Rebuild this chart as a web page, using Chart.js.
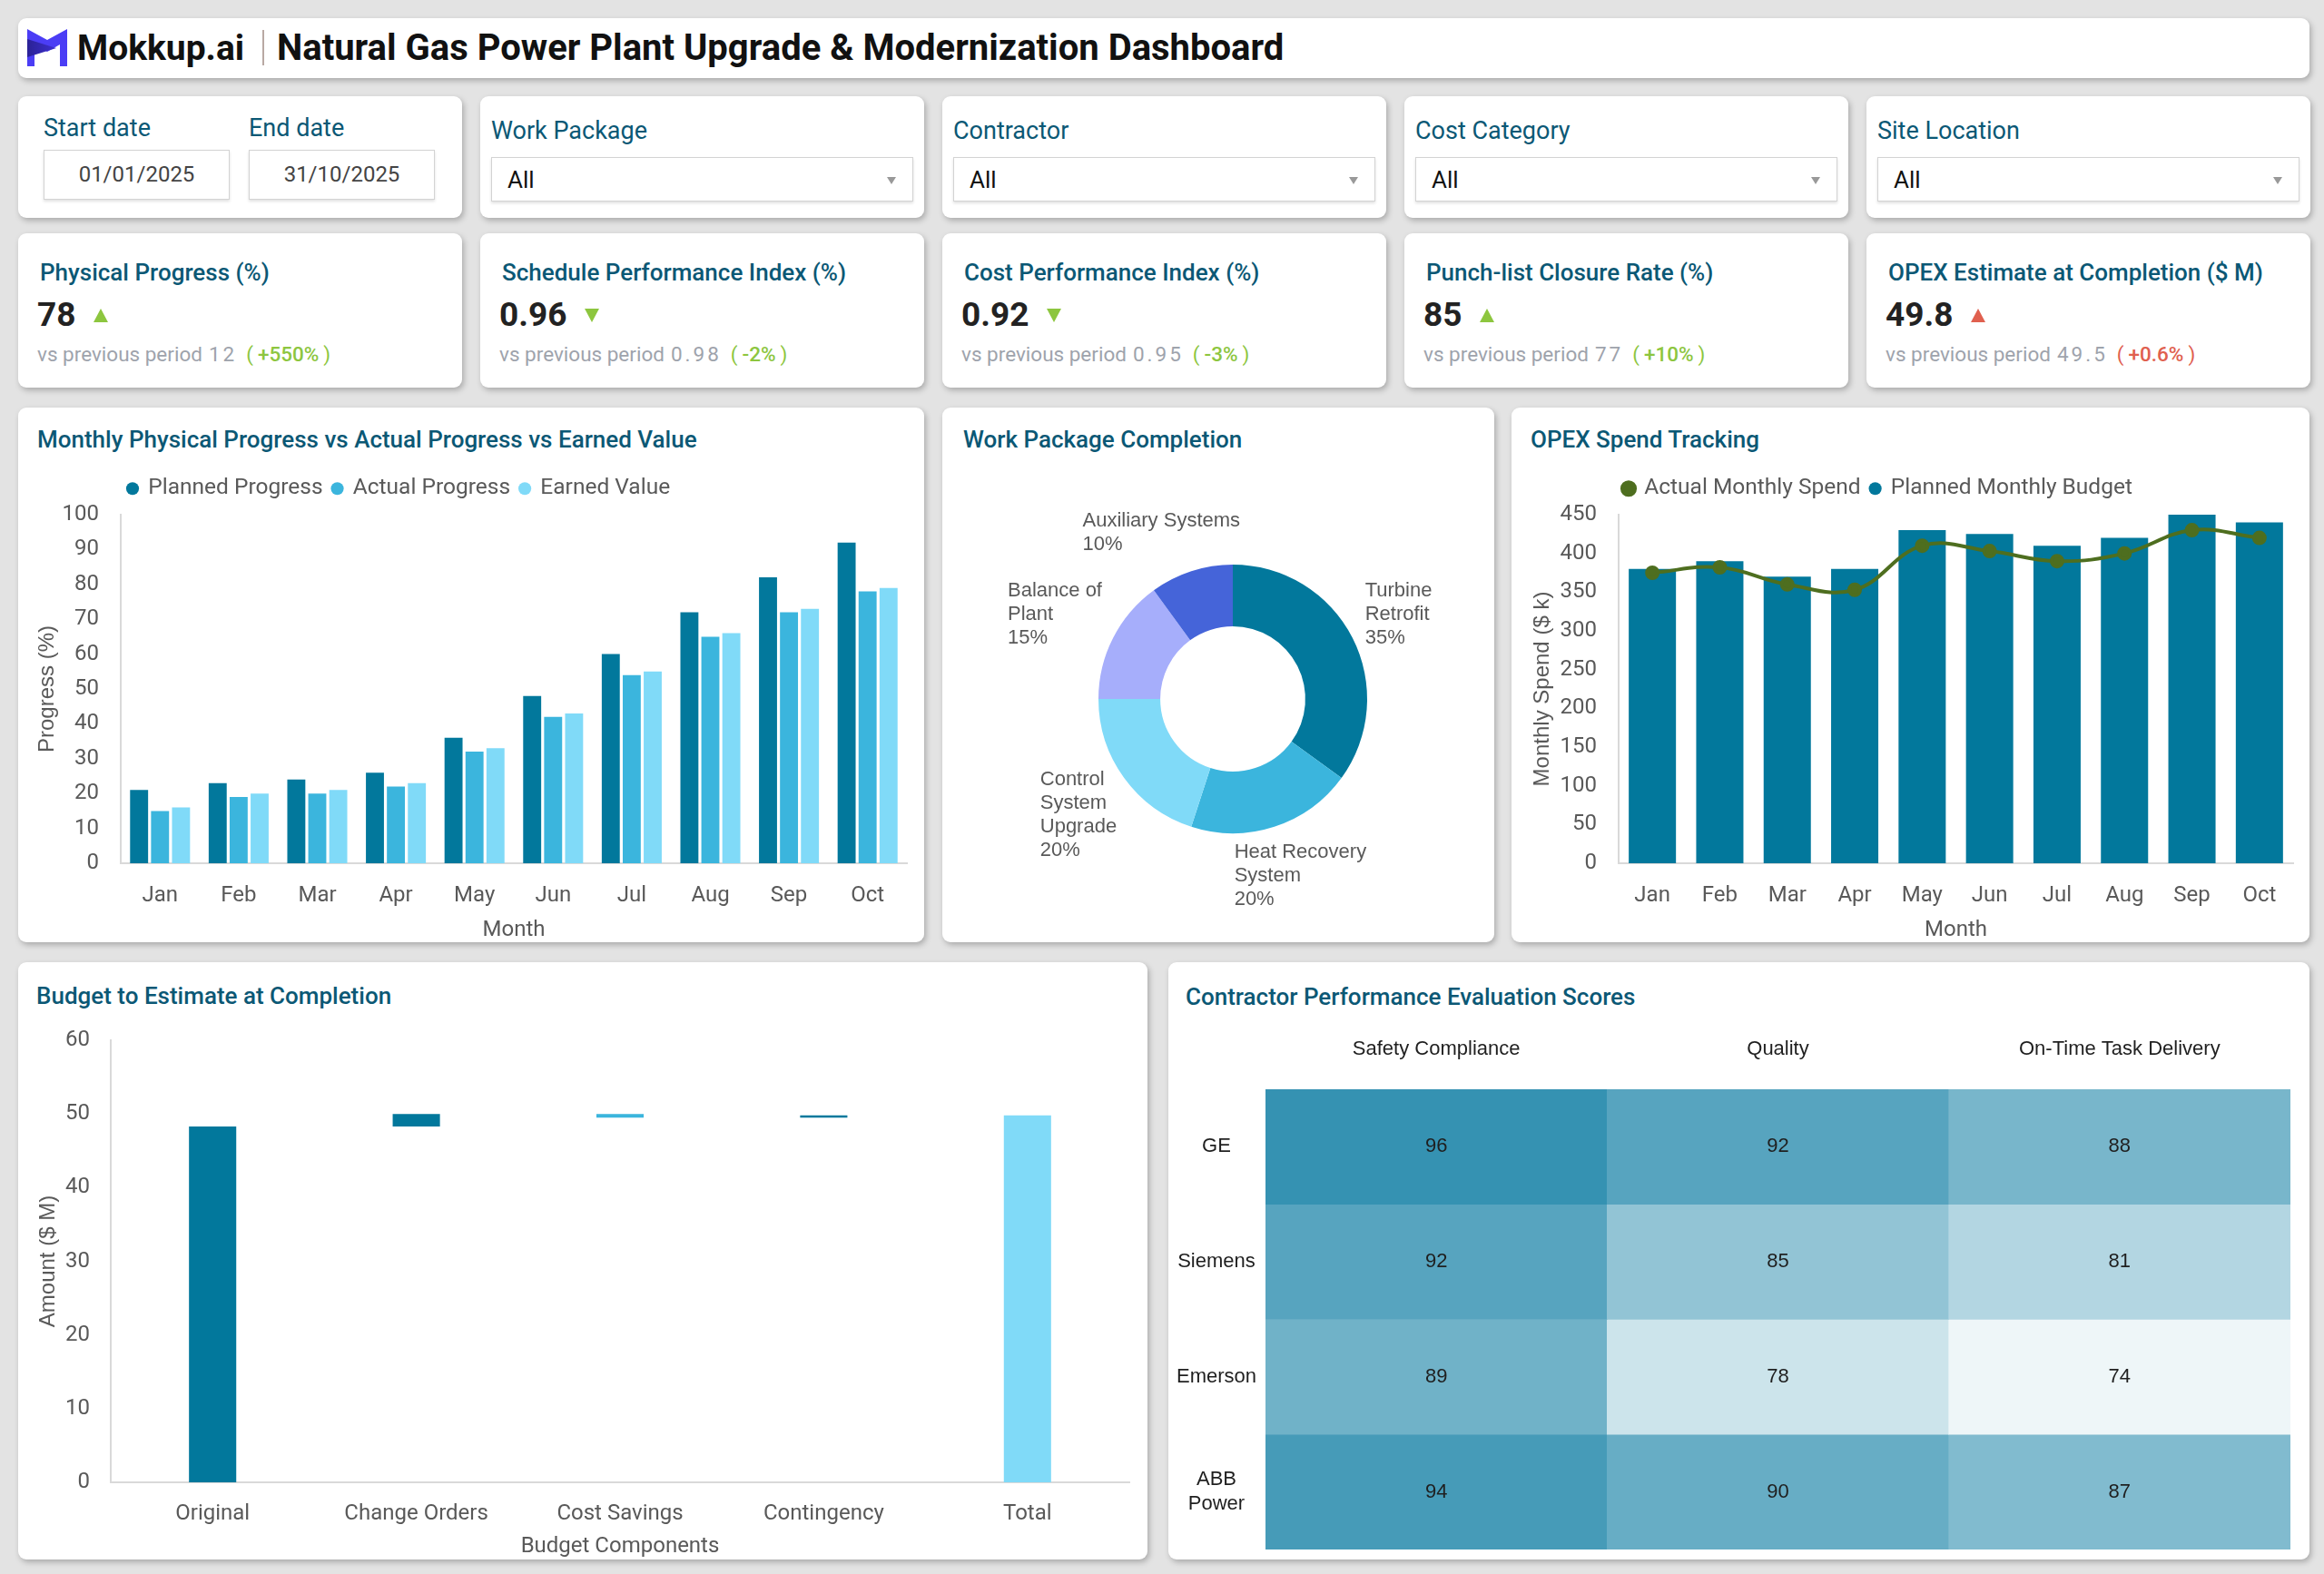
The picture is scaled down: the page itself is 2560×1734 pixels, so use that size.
<!DOCTYPE html>
<html>
<head>
<meta charset="utf-8">
<title>Natural Gas Power Plant Upgrade & Modernization Dashboard</title>
<script src="https://cdn.jsdelivr.net/npm/chart.js@4.4.1/dist/chart.umd.min.js"></script>
<style>
  html, body { margin: 0; padding: 0; }
  body { background: #e3e3e3; font-family: Roboto, "Noto Sans", sans-serif; }
  #page { position: relative; width: 2560px; height: 1734px; overflow: hidden; }
  .card { position: absolute; background: #fff; border-radius: 9px; box-shadow: 2px 3px 6px rgba(0,0,0,0.25); }
  .abs { position: absolute; white-space: nowrap; }
  canvas { position: absolute; }
  .brand { left: 65px; top: 9px; font-size: 39px; font-weight: 700; line-height: 48px; color: #111; }
  .sep { left: 269px; top: 13px; width: 2px; height: 39px; background: #b9a9a3; }
  .htitle { left: 285px; top: 8px; font-size: 40px; font-weight: 700; line-height: 50px; color: #111; }
  .flabel { font-size: 27px; line-height: 32px; color: #0b5875; }
  .datebox { border: 1px solid #d3d3d3; box-shadow: 0 2px 3px rgba(0,0,0,0.12); font-size: 24px; color: #444;
             text-align: center; line-height: 53px; height: 53px; width: 203px; }
  .select { border: 1px solid #d3d3d3; box-shadow: 0 2px 3px rgba(0,0,0,0.12); height: 47px; width: 463px; }
  .select span { position: absolute; left: 17px; top: 0; line-height: 48px; font-size: 26px; color: #111; }
  .select i { position: absolute; right: 18px; top: 21px; width: 0; height: 0;
              border-left: 5px solid transparent; border-right: 5px solid transparent; border-top: 8px solid #999; }
  .ktitle { left: 24px; top: 27px; font-size: 26px; font-weight: 500; line-height: 32px; color: #0b5875; }
  .kvalue { left: 21px; top: 68px; font-size: 37px; font-weight: 700; line-height: 44px; color: #222; }
  .kvalue b { display: inline-block; width: 0; height: 0; margin-left: 20px; vertical-align: 4px; }
  .up { border-left: 8px solid transparent; border-right: 8px solid transparent; border-bottom: 15px solid; }
  .down { border-left: 8px solid transparent; border-right: 8px solid transparent; border-top: 15px solid; }
  .kprev { left: 21px; top: 119px; font-size: 22.5px; line-height: 28px; color: #9ea3ac; }
  .kprev .num { letter-spacing: 3px; margin-left: 7px; }
  .kprev .chg { margin-left: 10px; }
  .kprev .chg em { font-style: normal; font-weight: 500; margin: 0 5px; }
  .ctitle { font-size: 26px; font-weight: 500; line-height: 32px; color: #0b5875; }
</style>
</head>
<body>
<div id="page">
  <div class="card" style="left:20px;top:20px;width:2524px;height:66px">
    <svg class="abs" style="left:10px;top:12px" width="44" height="41" viewBox="0 0 44 41">
      <defs>
        <linearGradient id="lg" x1="0" x2="1" y1="0" y2="0">
          <stop offset="0" stop-color="#2b2296"/><stop offset="1" stop-color="#3d2fd0"/>
        </linearGradient>
      </defs>
      <path d="M0,0 L22,12 L44,0 L44,41 L36,41 L36,17 L22,25 L8,17 L8,41 L0,41 Z" fill="#4b3df5"/>
      <path d="M0,11 L32,21 L0,31 Z" fill="url(#lg)"/>
    </svg>
    <div class="abs brand">Mokkup.ai</div>
    <div class="abs sep"></div>
    <div class="abs htitle">Natural Gas Power Plant Upgrade &amp; Modernization Dashboard</div>
  </div>

  <div class="card" style="left:20px;top:106px;width:489px;height:134px">
    <div class="abs flabel" style="left:28px;top:19px">Start date</div>
    <div class="abs flabel" style="left:254px;top:19px">End date</div>
    <div class="abs datebox" style="left:28px;top:59px">01/01/2025</div>
    <div class="abs datebox" style="left:254px;top:59px">31/10/2025</div>
  </div>
  <div id="filters"></div>
  <div id="kpis"></div>

  <div class="card" style="left:20px;top:449px;width:998px;height:589px">
    <div class="abs ctitle" style="left:21px;top:19px">Monthly Physical Progress vs Actual Progress vs Earned Value</div>
  </div>
  <div class="card" style="left:1038px;top:449px;width:608px;height:589px">
    <div class="abs ctitle" style="left:23px;top:19px">Work Package Completion</div>
  </div>
  <div class="card" style="left:1665px;top:449px;width:879px;height:589px">
    <div class="abs ctitle" style="left:21px;top:19px">OPEX Spend Tracking</div>
  </div>
  <div class="card" style="left:20px;top:1060px;width:1244px;height:658px">
    <div class="abs ctitle" style="left:20px;top:21px">Budget to Estimate at Completion</div>
  </div>
  <div class="card" style="left:1287px;top:1060px;width:1257px;height:658px">
    <div class="abs ctitle" style="left:19px;top:22px">Contractor Performance Evaluation Scores</div>
  </div>

  <canvas id="progressChart" width="985" height="524" style="left:30px;top:515px"></canvas>
  <canvas id="packageChart" width="560" height="500" style="left:1078px;top:520px"></canvas>
  <canvas id="opexChart" width="868" height="524" style="left:1672px;top:515px"></canvas>
  <canvas id="budgetChart" width="1232" height="598" style="left:30px;top:1120px"></canvas>
  <canvas id="scoreChart" width="1250" height="595" style="left:1290px;top:1120px"></canvas>
</div>

<script>
// ---- data ----
const filterLabels = ['Work Package', 'Contractor', 'Cost Category', 'Site Location'];

const kpiTitles = ['Physical Progress (%)', 'Schedule Performance Index (%)', 'Cost Performance Index (%)',
  'Punch-list Closure Rate (%)', 'OPEX Estimate at Completion ($ M)'];
const kpiValues = ['78', '0.96', '0.92', '85', '49.8'];
const kpiPrevious = ['12', '0.98', '0.95', '77', '49.5'];
const kpiChange = ['+550%', '-2%', '-3%', '+10%', '+0.6%'];
const kpiDirection = ['up', 'down', 'down', 'up', 'up'];
const kpiFavourable = [true, true, true, true, false];

const months = ['Jan', 'Feb', 'Mar', 'Apr', 'May', 'Jun', 'Jul', 'Aug', 'Sep', 'Oct'];
const plannedProgress = [21, 23, 24, 26, 36, 48, 60, 72, 82, 92];
const actualProgress = [15, 19, 20, 22, 32, 42, 54, 65, 72, 78];
const earnedValue = [16, 20, 21, 23, 33, 43, 55, 66, 73, 79];

const workPackages = ['Turbine Retrofit', 'Heat Recovery System', 'Control System Upgrade', 'Balance of Plant', 'Auxiliary Systems'];
const workPackageShare = [35, 20, 20, 15, 10];
const workPackageLines = [['Turbine', 'Retrofit'], ['Heat Recovery', 'System'], ['Control', 'System', 'Upgrade'],
  ['Balance of', 'Plant'], ['Auxiliary Systems']];

const plannedBudget = [380, 390, 370, 380, 430, 425, 410, 420, 450, 440];
const actualSpend = [375, 382, 360, 353, 410, 403, 390, 400, 430, 420];

const budgetSteps = ['Original', 'Change Orders', 'Cost Savings', 'Contingency', 'Total'];
const budgetOriginal = 48.3;
const budgetAdjustments = [1.7, -0.5, 0.3];
const budgetTotal = 49.8;

const contractors = ['GE', 'Siemens', 'Emerson', 'ABB Power'];
const criteria = ['Safety Compliance', 'Quality', 'On-Time Task Delivery'];
const contractorScores = [[96, 92, 88], [92, 85, 81], [89, 78, 74], [94, 90, 87]];

// ---- colours ----
const C_DARK = '#02789C';
const C_MID = '#3BB5DD';
const C_LIGHT = '#80DAF8';
const C_GREEN = '#4E6E1F';
const TEXT = '#595959';
const AXIS = '#d9d9d9';

// ---- filter + kpi cards ----
const filtersEl = document.getElementById('filters');
filterLabels.forEach((label, i) => {
  const card = document.createElement('div');
  card.className = 'card';
  card.style.cssText = `left:${529 + i * 509}px;top:106px;width:489px;height:134px`;
  card.innerHTML = `<div class="abs flabel" style="left:12px;top:22px">${label}</div>
    <div class="abs select" style="left:12px;top:67px"><span>All</span><i></i></div>`;
  filtersEl.appendChild(card);
});

const kpisEl = document.getElementById('kpis');
kpiTitles.forEach((title, i) => {
  const good = kpiFavourable[i] ? '#8dc63f' : '#e0604f';
  const card = document.createElement('div');
  card.className = 'card';
  card.style.cssText = `left:${20 + i * 509}px;top:257px;width:489px;height:170px`;
  card.innerHTML = `<div class="abs ktitle">${title}</div>
    <div class="abs kvalue">${kpiValues[i]}<b class="${kpiDirection[i]}" style="color:${good}"></b></div>
    <div class="abs kprev">vs previous period<span class="num">${kpiPrevious[i]}</span><span class="chg" style="color:${good}">(<em>${kpiChange[i]}</em>)</span></div>`;
  kpisEl.appendChild(card);
});

// ---- chart defaults ----
Chart.defaults.font.family = 'Roboto';
Chart.defaults.font.size = 24;
Chart.defaults.color = TEXT;
Chart.defaults.animation = false;
Chart.defaults.plugins.tooltip.enabled = false;

const axisTitleFont = { family: '"Liberation Sans", Arial', size: 24 };
// fixed axis sizes so the plot areas land where the dashboard has them
const fixWidth = (w) => (scale) => { scale.width = w; scale.paddingTop = 0; scale.paddingBottom = 0; };
const fixHeight = (h) => (scale) => { scale.height = h; scale.paddingLeft = 0; scale.paddingRight = 0; };

// legend sits at a fixed height and starts at the plot's left edge
const legendPlacement = (height, inset) => ({
  id: 'legendPlacement',
  beforeLayout(chart) {
    const lg = chart.legend;
    if (lg && !lg._fixed) {
      const fit = lg.fit;
      lg.fit = function () { fit.call(this); this.height = height; };
      lg._fixed = true;
    }
  },
  afterLayout(chart) {
    const lg = chart.legend;
    const dx = chart.chartArea.left + inset - lg.options.labels.padding - lg.left;
    lg.left += dx;
    lg.right += dx;
  }
});

const legendOpts = {
  align: 'start',
  labels: { usePointStyle: true, pointStyle: 'circle', boxWidth: 10, boxHeight: 10, padding: 11,
            color: TEXT, font: { size: 24.5 } }
};
const plainGrid = { display: false, drawTicks: false };
const axisBorder = { display: true, color: AXIS, width: 2 };

// ---- monthly progress ----
new Chart(document.getElementById('progressChart'), {
  type: 'bar',
  data: {
    labels: months,
    datasets: [
      { label: 'Planned Progress', data: plannedProgress, backgroundColor: C_DARK },
      { label: 'Actual Progress', data: actualProgress, backgroundColor: C_MID },
      { label: 'Earned Value', data: earnedValue, backgroundColor: C_LIGHT }
    ]
  },
  options: {
    responsive: false,
    layout: { padding: { right: 16 } },
    datasets: { bar: { categoryPercentage: 0.8, barPercentage: 0.86 } },
    plugins: { legend: legendOpts },
    scales: {
      x: {
        grid: plainGrid, border: axisBorder, ticks: { padding: 22 },
        title: { display: true, text: 'Month', color: TEXT, font: { size: 24 }, padding: { top: 0, bottom: 0 } },
        afterFit: fixHeight(88)
      },
      y: {
        min: 0, max: 100, grid: plainGrid, border: axisBorder, ticks: { stepSize: 10, padding: 24 },
        title: { display: true, text: 'Progress (%)', color: TEXT, font: axisTitleFont, padding: { top: 8, bottom: 0 } },
        afterFit: fixWidth(103)
      }
    }
  },
  plugins: [legendPlacement(52, 8)]
});

// ---- work package doughnut ----
const outsideLabels = {
  id: 'outsideLabels',
  afterDatasetsDraw(chart) {
    const ctx = chart.ctx;
    const lineH = 26;
    ctx.save();
    ctx.font = '22px "Liberation Sans", Arial';
    ctx.fillStyle = TEXT;
    ctx.textAlign = 'left';
    ctx.textBaseline = 'middle';
    chart.getDatasetMeta(0).data.forEach((arc, i) => {
      const lines = workPackageLines[i].concat([workPackageShare[i] + '%']);
      const mid = (arc.startAngle + arc.endAngle) / 2;
      const ux = Math.cos(mid), uy = Math.sin(mid);
      const w = Math.max(...lines.map((l) => ctx.measureText(l).width));
      const h = lines.length * lineH;
      const cx = arc.x + ux * (arc.outerRadius + 20) + ux * w / 2;
      const cy = arc.y + uy * (arc.outerRadius + 18) + uy * h / 2;
      lines.forEach((l, k) => ctx.fillText(l, cx - w / 2, cy - h / 2 + lineH * (k + 0.5)));
    });
    ctx.restore();
  }
};

new Chart(document.getElementById('packageChart'), {
  type: 'doughnut',
  data: {
    labels: workPackages,
    datasets: [{
      data: workPackageShare,
      backgroundColor: [C_DARK, C_MID, C_LIGHT, '#A6AEFB', '#4564D9'],
      borderWidth: 0
    }]
  },
  options: {
    responsive: false,
    cutout: '54%',
    layout: { padding: { left: 132, right: 132, top: 102, bottom: 102 } },
    plugins: { legend: { display: false } }
  },
  plugins: [outsideLabels]
});

// ---- OPEX tracking ----
new Chart(document.getElementById('opexChart'), {
  type: 'bar',
  data: {
    labels: months,
    datasets: [
      { type: 'line', label: 'Actual Monthly Spend', data: actualSpend, order: 0,
        borderColor: C_GREEN, backgroundColor: C_GREEN, pointBackgroundColor: C_GREEN, pointBorderColor: C_GREEN,
        borderWidth: 4, pointRadius: 6, tension: 0.4 },
      { type: 'bar', label: 'Planned Monthly Budget', data: plannedBudget, order: 1,
        backgroundColor: C_DARK, categoryPercentage: 0.7, barPercentage: 1 }
    ]
  },
  options: {
    responsive: false,
    layout: { padding: { right: 14 } },
    plugins: { legend: legendOpts },
    scales: {
      x: {
        grid: plainGrid, border: axisBorder, ticks: { padding: 22 },
        title: { display: true, text: 'Month', color: TEXT, font: { size: 24 }, padding: { top: 0, bottom: 0 } },
        afterFit: fixHeight(88)
      },
      y: {
        min: 0, max: 450, grid: plainGrid, border: axisBorder, ticks: { stepSize: 50, padding: 24 },
        title: { display: true, text: 'Monthly Spend ($ k)', color: TEXT, font: axisTitleFont, padding: { top: 13, bottom: 0 } },
        afterFit: fixWidth(111)
      }
    }
  },
  plugins: [legendPlacement(52, 6)]
});

// ---- budget waterfall ----
const budgetRanges = [[0, budgetOriginal]];
const budgetColors = [C_DARK];
let running = budgetOriginal;
budgetAdjustments.forEach((d) => {
  budgetRanges.push([running, running + d]);
  budgetColors.push(d >= 0 ? C_DARK : C_MID);
  running += d;
});
budgetRanges.push([0, budgetTotal]);
budgetColors.push(C_LIGHT);

new Chart(document.getElementById('budgetChart'), {
  type: 'bar',
  data: {
    labels: budgetSteps,
    datasets: [{ data: budgetRanges, backgroundColor: budgetColors, categoryPercentage: 1, barPercentage: 0.232 }]
  },
  options: {
    responsive: false,
    layout: { padding: { right: 18, top: 26 } },
    plugins: { legend: { display: false } },
    scales: {
      x: {
        grid: plainGrid, border: axisBorder, ticks: { padding: 21 },
        title: { display: true, text: 'Budget Components', color: TEXT, font: { size: 24 }, padding: { top: 0, bottom: 0 } },
        afterFit: fixHeight(85)
      },
      y: {
        min: 0, max: 60, grid: plainGrid, border: axisBorder, ticks: { stepSize: 10, padding: 23 },
        title: { display: true, text: 'Amount ($ M)', color: TEXT, font: axisTitleFont, padding: { top: 9, bottom: 0 } },
        afterFit: fixWidth(92)
      }
    }
  }
});

// ---- contractor heatmap ----
const scoreMin = Math.min(...contractorScores.flat());
const scoreMax = Math.max(...contractorScores.flat());
function heatColor(v) {
  const lo = [238, 246, 248], hi = [53, 146, 178];
  const t = (v - scoreMin) / (scoreMax - scoreMin);
  const c = lo.map((l, k) => Math.round(l + (hi[k] - l) * t));
  return `rgb(${c[0]},${c[1]},${c[2]})`;
}

const cellLabels = {
  id: 'cellLabels',
  afterDatasetsDraw(chart) {
    const ctx = chart.ctx;
    ctx.save();
    ctx.font = '22px "Liberation Sans", Arial';
    ctx.fillStyle = '#1f1f1f';
    ctx.textAlign = 'center';
    ctx.textBaseline = 'middle';
    chart.data.datasets.forEach((ds, i) => {
      chart.getDatasetMeta(i).data.forEach((bar, j) => {
        ctx.fillText(String(contractorScores[i][j]), bar.x, (bar.y + bar.base) / 2);
      });
    });
    ctx.restore();
  }
};

const cellFont = { family: '"Liberation Sans", Arial', size: 22 };
new Chart(document.getElementById('scoreChart'), {
  type: 'bar',
  data: {
    labels: criteria,
    datasets: contractors.map((name, i) => ({
      label: name,
      data: criteria.map(() => 1),
      backgroundColor: contractorScores[i].map(heatColor),
      borderWidth: 0,
      categoryPercentage: 1,
      barPercentage: 1
    }))
  },
  options: {
    responsive: false,
    layout: { padding: { right: 17, bottom: 8 } },
    plugins: { legend: { display: false } },
    scales: {
      x: {
        position: 'top', stacked: true, grid: plainGrid, border: { display: false },
        ticks: { padding: 31, color: '#1f1f1f', font: cellFont },
        afterFit: fixHeight(80)
      },
      y: {
        stacked: true, min: 0, max: contractors.length, reverse: true,
        grid: plainGrid, border: { display: false },
        afterBuildTicks: (axis) => { axis.ticks = contractors.map((c, i) => ({ value: i + 0.5 })); },
        ticks: {
          padding: 10, crossAlign: 'center', color: '#1f1f1f', font: cellFont,
          callback: (value, index) => {
            const name = contractors[index];
            return name.length > 8 ? name.split(' ') : name;
          }
        },
        afterFit: fixWidth(104)
      }
    }
  },
  plugins: [cellLabels]
});
</script>
</body>
</html>
